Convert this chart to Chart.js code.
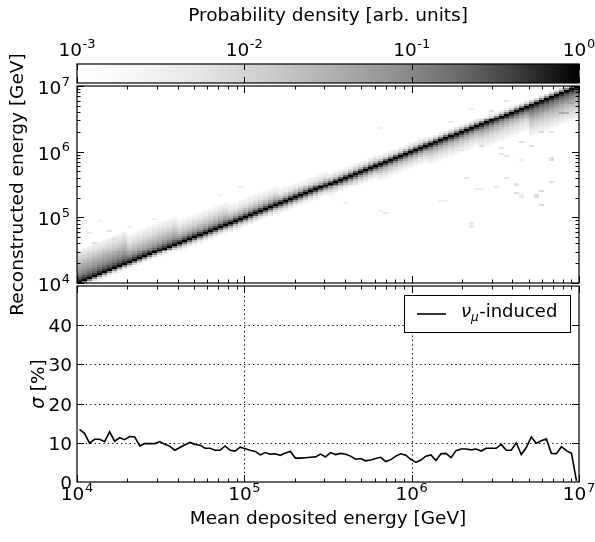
<!DOCTYPE html>
<html><head><meta charset="utf-8">
<script src="https://cdn.jsdelivr.net/npm/chart.js@4.4.1/dist/chart.umd.min.js"></script>
<style>
html,body{margin:0;padding:0;background:#fff;}
#wrap{position:relative;width:595px;height:542px;background:#fff;}
canvas{position:absolute;left:0;top:0;}
</style></head><body>
<div id="wrap">
<canvas id="cbar" width="595" height="542"></canvas>
<canvas id="heat" width="595" height="542"></canvas>
<canvas id="sig" width="595" height="542"></canvas>
</div>
<script>
// ---------------- data ----------------
const energyMin = 1e4, energyMax = 1e7;
const nBinsX = 100, nBinsY = 100;
const xTickExponents = [4, 5, 6, 7];
const yTickExponents = [4, 5, 6, 7];
const cbarTickExponents = [-3, -2, -1, 0];
const sigmaTicks = [0, 10, 20, 30, 40];
const sigmaRange = [0, 50];
const densityRange = [1e-3, 1];

// sigma [%] per energy bin (100 bins, 1e4..1e7)
const sigmaPercent = [
  13.4, 12.4, 9.9, 10.9, 10.9, 10.3, 12.8, 10.4, 11.3, 10.8,
  11.6, 11.5, 9.2, 9.8, 9.8, 9.8, 10.3, 9.6, 9.1, 8.1,
  8.8, 9.5, 10.1, 9.6, 9.4, 8.6, 8.6, 8.1, 8.1, 9.2,
  8.1, 7.9, 8.9, 8.5, 8.1, 7.8, 6.9, 7.5, 7.1, 7.2,
  6.8, 7.4, 7.8, 6.1, 6.1, 6.2, 6.3, 6.4, 7.1, 6.4,
  7.5, 7.0, 7.3, 7.1, 6.6, 5.8, 6.0, 5.4, 5.6, 6.0,
  6.3, 5.2, 5.7, 6.6, 7.2, 6.8, 5.8, 5.0, 5.6, 6.6,
  6.9, 5.5, 7.2, 7.3, 6.2, 8.0, 8.4, 8.4, 8.2, 8.4,
  7.9, 8.6, 8.6, 8.6, 9.6, 8.1, 8.1, 10.0, 7.0, 8.8,
  11.5, 9.9, 10.5, 11.0, 7.3, 7.2, 9.0, 8.0, 7.3, 0.3
];

// density profile around the diagonal (offset in reconstructed-energy bins),
// one profile per group of 10 deposited-energy bins
const bandOffsets = [-16,-15,-14,-13,-12,-11,-10,-9,-8,-7,-6,-5,-4,-3,-2,-1,0,1,2,3,4,5,6,7,8,9,10,11,12,13,14,15,16];
const bandGroupStart = [0, 10, 20, 30, 40, 50, 60, 70, 80, 90];
const bandProfiles = [
  [0,0,0,0,0,0,0,0,0,0,0,0,0, 0.002,0.006,0.1, 1, 0.5,0.26,0.17,0.11,0.08,0.06,0.045,0.035,0.025,0.018,0.013,0.01,0.007,0.005,0.004,0.003],
  [0,0,0,0,0,0,0,0,0,0,0,0,0, 0.002,0.01,0.13, 1, 0.45,0.2,0.1,0.06,0.04,0.028,0.02,0.014,0.01,0.007,0.005,0.004,0.003,0.002,0,0],
  [0,0,0,0,0,0,0,0,0,0,0,0, 0.002,0.005,0.02,0.2, 1, 0.4,0.13,0.06,0.035,0.02,0.013,0.009,0.006,0.004,0.003,0.002,0,0,0,0,0],
  [0,0,0,0,0,0,0,0,0,0,0,0, 0.003,0.008,0.03,0.28, 1, 0.35,0.09,0.035,0.018,0.01,0.006,0.004,0.003,0.002,0,0,0,0,0,0,0],
  [0,0,0,0,0,0,0,0,0,0,0, 0.002,0.004,0.012,0.05,0.32, 1, 0.3,0.05,0.02,0.008,0.004,0.003,0.002,0,0,0,0,0,0,0,0,0],
  [0,0,0,0,0,0,0,0,0,0, 0.002,0.004,0.008,0.02,0.07,0.36, 1, 0.25,0.03,0.01,0.004,0.002,0,0,0,0,0,0,0,0,0,0,0],
  [0,0,0,0,0,0,0,0, 0.002,0.003,0.005,0.008,0.015,0.03,0.09,0.4, 1, 0.2,0.02,0.006,0.003,0,0,0,0,0,0,0,0,0,0,0,0],
  [0,0,0,0,0,0, 0.002,0.003,0.004,0.006,0.009,0.014,0.025,0.05,0.13,0.45, 1, 0.16,0.015,0.004,0,0,0,0,0,0,0,0,0,0,0,0,0],
  [0,0,0,0, 0.002,0.003,0.004,0.005,0.007,0.01,0.016,0.025,0.04,0.08,0.18,0.5, 1, 0.13,0.01,0.003,0,0,0,0,0,0,0,0,0,0,0,0,0],
  [0.002,0.003,0.004,0.005,0.007,0.009,0.012,0.016,0.022,0.03,0.045,0.07,0.1,0.15,0.25,0.55, 1, 0.1,0.01,0,0,0,0,0,0,0,0,0,0,0,0,0,0]
];

// isolated cells [deposited bin, reconstructed bin, density]
const outlierCells = [
  [78,29,0.003],[60,36,0.003],[83,48,0.005],[85,53,0.005],[87,49,0.005],[88,44,0.003],
  [91,43,0.007],[92,39,0.008],[94,51,0.007],[94,62,0.008],[94,76,0.005],[97,86,0.03],
  [98,91,0.05],[96,86,0.04],[85,92,0.005],[78,88,0.003],[86,80,0.008],[88,71,0.007],
  [76,67,0.005],[80,69,0.007],[84,65,0.005],[88,62,0.003],[60,78,0.003],[74,81,0.003],
  [61,35,0.005],[73,41,0.003],[78,30,0.005],[78,28,0.005],[87,45,0.007],[88,43,0.005],
  [91,44,0.007],[92,46,0.007],[80,47,0.003],[82,87,0.005],[92,76,0.01],[90,69,0.007],
  [94,63,0.007],[84,68,0.005],[85,64,0.005],[87,50,0.005],[81,71,0.003],
  [1,30,0.003],[4,31,0.003],[15,32,0.003],[2,25,0.005],[6,26,0.005],[10,28,0.003],
  [13,25,0.005],[7,22,0.007],[3,20,0.007],[11,21,0.007],[16,28,0.003],[32,48,0.003],
  [28,44,0.003],[53,40,0.003],[77,53,0.005],[72,41,0.003],[79,47,0.003]
];

// grey colour map (position along log density axis -> grey level)
const cmapT    = [0, 0.125, 0.25, 0.375, 0.5, 0.625, 0.75, 0.875, 1];
const cmapGray = [255, 245, 228, 205, 178, 148, 110, 62, 0];

// ---------------- helpers ----------------
const FONT = '"DejaVu Sans", "Liberation Sans", sans-serif';
const FS = 18.5, FS_EXP = 13;
function grayFor(v) {
  let t = (Math.log10(v) - Math.log10(densityRange[0])) / (Math.log10(densityRange[1]) - Math.log10(densityRange[0]));
  t = Math.max(0, Math.min(1, t));
  for (let i = 1; i < cmapT.length; i++) {
    if (t <= cmapT[i]) {
      const f = (t - cmapT[i-1]) / (cmapT[i] - cmapT[i-1]);
      const g = Math.round(cmapGray[i-1] + f * (cmapGray[i] - cmapGray[i-1]));
      return `rgb(${g},${g},${g})`;
    }
  }
  return 'rgb(0,0,0)';
}
function binEdge(i, n) { return Math.pow(10, Math.log10(energyMin) + (Math.log10(energyMax) - Math.log10(energyMin)) * i / n); }
function binCenter(i, n) { return Math.pow(10, Math.log10(energyMin) + (Math.log10(energyMax) - Math.log10(energyMin)) * (i + 0.5) / n); }
function logTickSet(minE, maxE) {
  const major = [], minor = [];
  for (let e = minE; e <= maxE; e++) {
    major.push(Math.pow(10, e));
    if (e < maxE) for (let m = 2; m <= 9; m++) minor.push(m * Math.pow(10, e));
  }
  return {major, minor};
}
function drawPow(ctx, exp, x, y, align) {
  ctx.save();
  ctx.fillStyle = '#000';
  ctx.textBaseline = 'alphabetic';
  ctx.textAlign = 'left';
  ctx.font = `${FS}px ${FONT}`;
  const wb = ctx.measureText('10').width;
  ctx.font = `${FS_EXP}px ${FONT}`;
  const we = ctx.measureText(exp).width;
  const tot = wb + we + 0.5;
  let sx = x;
  if (align === 'center') sx = x - tot / 2;
  else if (align === 'right') sx = x - tot;
  ctx.font = `${FS}px ${FONT}`;
  ctx.fillText('10', sx, y);
  ctx.font = `${FS_EXP}px ${FONT}`;
  ctx.fillText(exp, sx + wb + 0.5, y - 8.5);
  ctx.restore();
}
function drawBorder(ctx, a) {
  ctx.save();
  ctx.strokeStyle = '#000';
  ctx.lineWidth = 1.2;
  ctx.strokeRect(a.left, a.top, a.right - a.left, a.bottom - a.top);
  ctx.restore();
}
function drawXTicks(ctx, scale, a, ticks, both) {
  ctx.save();
  ctx.strokeStyle = '#000';
  ctx.lineWidth = 1;
  ctx.beginPath();
  ticks.major.forEach(v => {
    const x = Math.round(scale.getPixelForValue(v)) + 0.5;
    ctx.moveTo(x, a.bottom); ctx.lineTo(x, a.bottom - 7);
    if (both) { ctx.moveTo(x, a.top); ctx.lineTo(x, a.top + 7); }
  });
  ticks.minor.forEach(v => {
    const x = Math.round(scale.getPixelForValue(v)) + 0.5;
    ctx.moveTo(x, a.bottom); ctx.lineTo(x, a.bottom - 3.5);
    if (both) { ctx.moveTo(x, a.top); ctx.lineTo(x, a.top + 3.5); }
  });
  ctx.stroke();
  ctx.restore();
}
function drawYTicks(ctx, scale, a, major, minor) {
  ctx.save();
  ctx.strokeStyle = '#000';
  ctx.lineWidth = 1;
  ctx.beginPath();
  major.forEach(v => {
    const y = Math.round(scale.getPixelForValue(v)) + 0.5;
    ctx.moveTo(a.left, y); ctx.lineTo(a.left + 7, y);
    ctx.moveTo(a.right, y); ctx.lineTo(a.right - 7, y);
  });
  minor.forEach(v => {
    const y = Math.round(scale.getPixelForValue(v)) + 0.5;
    ctx.moveTo(a.left, y); ctx.lineTo(a.left + 3.5, y);
    ctx.moveTo(a.right, y); ctx.lineTo(a.right - 3.5, y);
  });
  ctx.stroke();
  ctx.restore();
}

const PLOT_LEFT = 77, PLOT_RIGHT_PAD = 595 - 579;
const baseOpts = {
  responsive: false, animation: false, devicePixelRatio: 1, events: [],
  plugins: { legend: { display: false }, tooltip: { enabled: false }, title: { display: false } }
};

// ---------------- colour bar ----------------
new Chart(document.getElementById('cbar'), {
  type: 'scatter',
  data: { datasets: [{ data: [], pointRadius: 0 }] },
  options: Object.assign({}, baseOpts, {
    layout: { padding: { left: PLOT_LEFT, right: PLOT_RIGHT_PAD, top: 64, bottom: 542 - 83 } },
    scales: {
      x: { type: 'logarithmic', min: densityRange[0], max: densityRange[1], display: false },
      y: { type: 'linear', min: 0, max: 1, display: false }
    }
  }),
  plugins: [{
    id: 'cbarDraw',
    afterDatasetsDraw(chart) {
      const ctx = chart.ctx, a = chart.chartArea, xs = chart.scales.x;
      for (let px = Math.floor(a.left); px < Math.ceil(a.right); px++) {
        ctx.fillStyle = grayFor(xs.getValueForPixel(px + 0.5));
        ctx.fillRect(px, a.top, 1, a.bottom - a.top);
      }
      drawBorder(ctx, a);
      ctx.save();
      ctx.strokeStyle = '#000'; ctx.lineWidth = 1;
      ctx.beginPath();
      cbarTickExponents.forEach(e => {
        const x = Math.round(xs.getPixelForValue(Math.pow(10, e))) + 0.5;
        ctx.moveTo(x, a.top); ctx.lineTo(x, a.top + 6);
        ctx.moveTo(x, a.bottom); ctx.lineTo(x, a.bottom - 6);
      });
      ctx.stroke();
      ctx.restore();
      cbarTickExponents.forEach(e => {
        drawPow(ctx, String(e), xs.getPixelForValue(Math.pow(10, e)), 56, 'center');
      });
      ctx.save();
      ctx.fillStyle = '#000';
      ctx.font = `${FS}px ${FONT}`;
      ctx.textAlign = 'center';
      ctx.textBaseline = 'alphabetic';
      ctx.fillText('Probability density [arb. units]', (a.left + a.right) / 2, 21);
      ctx.restore();
    }
  }]
});

// ---------------- 2D histogram ----------------
const cellMap = new Map();
for (let k = 0; k < nBinsX; k++) {
  let g = 0;
  for (let s = 0; s < bandGroupStart.length; s++) if (k >= bandGroupStart[s]) g = s;
  const prof = bandProfiles[g];
  bandOffsets.forEach((o, i) => {
    const v = prof[i], j = k + o;
    if (v > 0 && j >= 0 && j < nBinsY) cellMap.set(k * 1000 + j, v);
  });
}
outlierCells.forEach(([k, j, v]) => {
  const key = k * 1000 + j;
  cellMap.set(key, Math.max(v, cellMap.get(key) || 0));
});
const heatCells = [];
cellMap.forEach((v, key) => {
  const k = Math.floor(key / 1000), j = key % 1000;
  heatCells.push({ x: binCenter(k, nBinsX), y: binCenter(j, nBinsY),
    x0: binEdge(k, nBinsX), x1: binEdge(k + 1, nBinsX),
    y0: binEdge(j, nBinsY), y1: binEdge(j + 1, nBinsY), v });
});

new Chart(document.getElementById('heat'), {
  type: 'scatter',
  data: { datasets: [{ data: heatCells, pointRadius: 0, showLine: false }] },
  options: Object.assign({}, baseOpts, {
    layout: { padding: { left: PLOT_LEFT, right: PLOT_RIGHT_PAD, top: 86, bottom: 542 - 283 } },
    scales: {
      x: { type: 'logarithmic', min: energyMin, max: energyMax, display: false },
      y: { type: 'logarithmic', min: energyMin, max: energyMax, display: false }
    }
  }),
  plugins: [{
    id: 'heatDraw',
    beforeDatasetsDraw(chart) {
      const ctx = chart.ctx, a = chart.chartArea, xs = chart.scales.x, ys = chart.scales.y;
      ctx.save();
      ctx.beginPath(); ctx.rect(a.left, a.top, a.right - a.left, a.bottom - a.top); ctx.clip();
      chart.data.datasets[0].data.forEach(c => {
        const px0 = Math.round(xs.getPixelForValue(c.x0)), px1 = Math.round(xs.getPixelForValue(c.x1));
        const py0 = Math.round(ys.getPixelForValue(c.y0)), py1 = Math.round(ys.getPixelForValue(c.y1));
        ctx.fillStyle = grayFor(c.v);
        ctx.fillRect(px0, py1, px1 - px0, py0 - py1);
      });
      ctx.restore();
    },
    afterDraw(chart) {
      const ctx = chart.ctx, a = chart.chartArea, xs = chart.scales.x, ys = chart.scales.y;
      drawBorder(ctx, a);
      drawXTicks(ctx, xs, a, logTickSet(4, 7), true);
      const yt = logTickSet(4, 7);
      drawYTicks(ctx, ys, a, yt.major, yt.minor);
      yTickExponents.forEach(e => {
        drawPow(ctx, String(e), a.left - 7, ys.getPixelForValue(Math.pow(10, e)) + 8, 'right');
      });
      ctx.save();
      ctx.fillStyle = '#000';
      ctx.font = `${FS}px ${FONT}`;
      ctx.translate(18, (a.top + a.bottom) / 2);
      ctx.rotate(-Math.PI / 2);
      ctx.textAlign = 'center';
      ctx.textBaseline = 'middle';
      ctx.fillText('Reconstructed energy [GeV]', 0, 0);
      ctx.restore();
    }
  }]
});

// ---------------- sigma panel ----------------
const sigmaPoints = sigmaPercent.map((s, k) => ({ x: binCenter(k, nBinsX), y: s }));
new Chart(document.getElementById('sig'), {
  type: 'line',
  data: { datasets: [{ label: 'νμ-induced', data: sigmaPoints, borderColor: '#000', borderWidth: 1.6,
    pointRadius: 0, tension: 0, fill: false }] },
  options: Object.assign({}, baseOpts, {
    layout: { padding: { left: PLOT_LEFT, right: PLOT_RIGHT_PAD, top: 286, bottom: 542 - 482 } },
    scales: {
      x: { type: 'logarithmic', min: energyMin, max: energyMax, display: false },
      y: { type: 'linear', min: sigmaRange[0], max: sigmaRange[1], display: false }
    }
  }),
  plugins: [{
    id: 'sigDraw',
    beforeDatasetsDraw(chart) {
      const ctx = chart.ctx, a = chart.chartArea, xs = chart.scales.x, ys = chart.scales.y;
      ctx.save();
      ctx.strokeStyle = '#000';
      ctx.lineWidth = 1;
      ctx.setLineDash([1.3, 3.1]);
      ctx.beginPath();
      sigmaTicks.filter(v => v > sigmaRange[0]).forEach(v => {
        const y = Math.round(ys.getPixelForValue(v)) + 0.5;
        ctx.moveTo(a.left, y); ctx.lineTo(a.right, y);
      });
      xTickExponents.slice(1, -1).forEach(e => {
        const x = Math.round(xs.getPixelForValue(Math.pow(10, e))) + 0.5;
        ctx.moveTo(x, a.bottom); ctx.lineTo(x, a.top);
      });
      ctx.stroke();
      ctx.restore();
    },
    afterDraw(chart) {
      const ctx = chart.ctx, a = chart.chartArea, xs = chart.scales.x, ys = chart.scales.y;
      drawBorder(ctx, a);
      drawXTicks(ctx, xs, a, logTickSet(4, 7), true);
      drawYTicks(ctx, ys, a, sigmaTicks.filter(v => v > sigmaRange[0]), []);
      xTickExponents.forEach(e => {
        drawPow(ctx, String(e), xs.getPixelForValue(Math.pow(10, e)), 500, 'center');
      });
      ctx.save();
      ctx.fillStyle = '#000';
      ctx.font = `${FS}px ${FONT}`;
      ctx.textAlign = 'right';
      ctx.textBaseline = 'alphabetic';
      sigmaTicks.forEach(v => ctx.fillText(String(v), a.left - 5, ys.getPixelForValue(v) + 7));
      ctx.textAlign = 'center';
      ctx.fillText('Mean deposited energy [GeV]', (a.left + a.right) / 2, 524);
      ctx.restore();
      // y title: sigma [%]
      ctx.save();
      ctx.fillStyle = '#000';
      ctx.translate(44, (a.top + a.bottom) / 2);
      ctx.rotate(-Math.PI / 2);
      ctx.textBaseline = 'alphabetic';
      ctx.textAlign = 'left';
      ctx.font = `italic ${FS}px ${FONT}`;
      const w1 = ctx.measureText('σ').width;
      ctx.font = `${FS}px ${FONT}`;
      const w2 = ctx.measureText(' [%]').width;
      const sx = -(w1 + w2) / 2;
      ctx.font = `italic ${FS}px ${FONT}`;
      ctx.fillText('σ', sx, 0);
      ctx.font = `${FS}px ${FONT}`;
      ctx.fillText(' [%]', sx + w1, 0);
      ctx.restore();
      // legend
      ctx.save();
      ctx.fillStyle = '#fff';
      ctx.fillRect(404, 295, 167, 38);
      ctx.strokeStyle = '#000';
      ctx.lineWidth = 1;
      ctx.strokeRect(404.5, 295.5, 166, 37);
      ctx.lineWidth = 1.6;
      ctx.beginPath(); ctx.moveTo(417, 314); ctx.lineTo(446, 314); ctx.stroke();
      ctx.fillStyle = '#000';
      ctx.textBaseline = 'alphabetic';
      ctx.textAlign = 'left';
      ctx.font = `italic 18px ${FONT}`;
      ctx.fillText('ν', 461, 317);
      const wn = ctx.measureText('ν').width;
      ctx.font = `italic 12px ${FONT}`;
      ctx.fillText('μ', 461 + wn, 321);
      const wm = ctx.measureText('μ').width;
      ctx.font = `18px ${FONT}`;
      ctx.fillText('-induced', 461 + wn + wm + 0.5, 317);
      ctx.restore();
    }
  }]
});
</script>
</body></html>
